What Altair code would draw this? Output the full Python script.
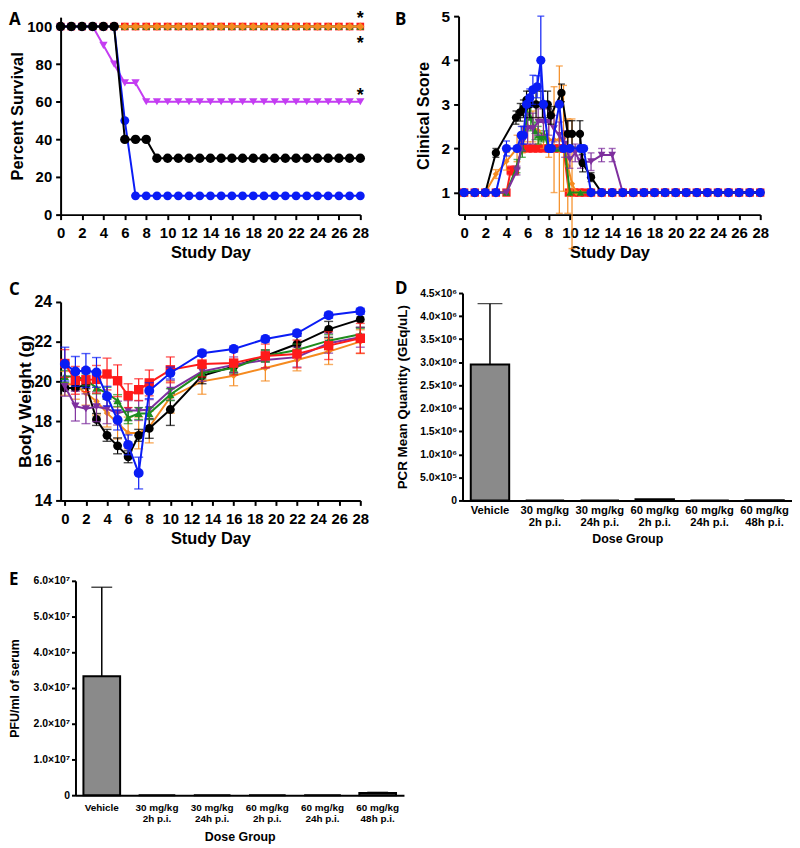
import altair as alt
import pandas as pd

FONT = "Liberation Sans"

# ---------------- colours ----------------
C_BLACK = "#000000"
C_BLUE = "#0a1cf5"
C_MAGENTA = "#c43df2"
C_PURPLE = "#7e2f9e"
C_ORANGE = "#f58a1f"
C_GREEN = "#1e8c1e"
C_RED = "#ff1a1a"

# ---------------- Panel A: percent survival ----------------
days_a = list(range(29))
surv_black = [100] * 6 + [40, 40, 40] + [30] * 20
surv_blue = [100] * 6 + [50] + [10] * 22
surv_magenta = [100] * 4 + [90, 80, 70, 70] + [60] * 21
surv_red = [100] * 29
surv_green = [100] * 29
surv_orange = [100] * 29
star_day = [28, 28, 28]
star_val = [105.5, 92.5, 64.5]

# ---------------- Panel B: clinical score ----------------
b_black_day = [0, 1, 2, 3, 4.9, 5.3, 5.6, 5.9, 6.2, 6.8, 7.4, 7.9, 8.2, 9.2, 9.8, 10.2, 10.95, 11.2, 12] + list(range(13, 29))
b_black_val = [1, 1, 1, 1.9, 2.7, 2.82, 2.9, 3.1, 3.0, 3.0, 3.0, 3.0, 2.75, 3.26, 2.33, 2.33, 2.33, 1.67, 1.35] + [1] * 16
b_black_err = [0, 0, 0, 0.1, 0.15, 0.2, 0.2, 0.2, 0.3, 0.3, 0.3, 0.3, 0.2, 0.2, 0.3, 0.3, 0.3, 0.2, 0.1] + [0] * 16

b_blue_day = [0, 1, 2, 3, 4, 5, 5.4, 5.6, 5.9, 6.2, 6.5, 6.9, 7.25, 7.5, 8, 8.25, 9, 9.4, 10, 11, 11.3, 12] + list(range(13, 29))
b_blue_val = [1, 1, 1, 1, 2, 2, 2.3, 2.3, 3, 3.15, 3.33, 3.4, 4, 3, 2, 2, 3, 2, 2, 2, 2, 1] + [1] * 16
b_blue_err = [0, 0, 0, 0, 0.17, 0, 0.2, 0.2, 0, 0.2, 0.33, 0.25, 1.0, 0, 0, 0, 0, 0, 0, 0, 0, 0] + [0] * 16

b_red_day = [0, 1, 2, 3, 4, 4.4, 4.8, 5.5, 6, 6.5, 7, 7.5, 8, 8.5, 9, 9.4, 9.9, 10.4, 10.9, 11.4] + list(range(12, 29))
b_red_val = [1, 1, 1, 1, 1, 1.5, 1.5, 2, 2, 2, 2, 2, 2, 2, 2, 2, 1, 1, 1, 1] + [1] * 17
b_red_err = [0, 0, 0, 0, 0, 0.1, 0.1] + [0] * 13 + [0] * 17

b_green_day = [0, 1, 2, 3, 4, 5, 5.5, 6, 6.3, 6.7, 7, 7.3, 7.6, 8, 8.5, 9, 9.5, 10] + list(range(11, 29))
b_green_val = [1, 1, 1, 1, 1, 1.6, 2.0, 2.8, 2.7, 2.4, 2.3, 2.25, 2.3, 2.0, 2.0, 2.0, 2.0, 1] + [1] * 18
b_green_err = [0, 0, 0, 0, 0, 0.15, 0.2, 0.3, 0.3, 0.2, 0.2, 0.1, 0.1, 0, 0, 0, 0, 0] + [0] * 18

b_orange_day = [0, 1, 2, 3, 4, 5, 5.5, 6, 6.5, 7, 7.5, 8, 8.5, 9, 9.4, 9.8, 10.2, 10.6] + list(range(11, 29))
b_orange_val = [1, 1, 1, 1.42, 1.71, 2.0, 2.2, 2.5, 2.5, 2.4, 2.3, 2.2, 2.2, 2.2, 2.23, 1.6, 1.2, 1] + [1] * 18
b_orange_err = [0, 0, 0, 0.1, 0.2, 0.3, 0.3, 0.35, 0.35, 0.3, 0.3, 0.4, 1.2, 1.67, 1.2, 1.07, 1.47, 0] + [0] * 18

b_purple_day = [0, 1, 2, 3, 4, 5, 5.5, 6, 6.5, 7, 7.5, 8, 8.5, 9, 9.5, 10, 10.5, 11, 12, 13, 14] + list(range(15, 29))
b_purple_val = [1, 1, 1, 1, 1, 1.5, 2.15, 2.45, 2.45, 2.6, 2.6, 2.6, 2.45, 2.3, 2.1, 1.75, 1.9, 1.7, 1.7, 1.85, 1.85] + [1] * 14
b_purple_err = [0, 0, 0, 0, 0, 0.1, 0.2, 0.35, 0.35, 0.3, 0.3, 0.3, 0.3, 0.3, 0.3, 0.2, 0.2, 0.15, 0.2, 0.15, 0.15] + [0] * 14

# ---------------- Panel C: body weight ----------------
days_c = [0, 1, 2, 3, 4, 5, 6, 7, 8, 10, 13, 16, 19, 22, 25, 28]
w_blue = [20.87, 20.5, 20.55, 20.45, 19.25, 18.05, 16.8, 15.38, 19.53, 20.42, 21.42, 21.63, 22.13, 22.42, 23.33, 23.53]
w_blue_err = [0.85, 0.75, 0.85, 0.75, 0.5, 0.5, 0.5, 0.8, 0.4, 0.3, 0.15, 0.15, 0.15, 0.15, 0.15, 0.15]
w_black = [19.67, 19.67, 19.83, 18.08, 17.28, 16.75, 16.2, 17.28, 17.63, 18.58, 20.28, 20.75, 21.28, 21.88, 22.62, 23.12]
w_black_err = [0.1, 0.1, 0.2, 0.3, 0.3, 0.4, 0.3, 0.3, 0.5, 0.8, 0.4, 0.3, 0.3, 0.4, 0.4, 0.4]
w_red = [20.9, 20.05, 20.08, 20.1, 20.37, 20.03, 19.28, 19.58, 19.92, 20.58, 20.87, 20.92, 21.28, 21.38, 21.8, 22.17]
w_red_err = [0.7, 0.7, 0.6, 0.7, 0.8, 0.8, 0.6, 0.55, 0.65, 0.65, 0.65, 0.6, 0.6, 0.7, 0.7, 0.75]
w_green = [20.25, 20.25, 20.08, 19.67, 19.4, 19.03, 18.17, 18.38, 18.38, 19.33, 20.42, 20.67, 21.28, 21.58, 22.05, 22.37]
w_green_err = [0.3] * 16
w_purple = [19.75, 18.75, 18.62, 18.72, 18.62, 18.4, 18.53, 18.53, 18.58, 19.55, 20.5, 20.83, 21.08, 21.22, 21.92, 22.22]
w_purple_err = [0.5, 0.75, 0.75, 0.75, 0.75, 0.6, 0.5, 0.5, 0.5, 0.5, 0.5, 0.4, 0.4, 0.5, 0.5, 0.5]
w_orange = [19.9, 19.8, 19.4, 19.0, 18.4, 17.9, 17.4, 17.4, 17.7, 19.2, 20.0, 20.28, 20.67, 21.08, 21.5, 22.0]
w_orange_err = [0.6, 0.7, 0.6, 0.7, 0.7, 0.8, 0.8, 0.8, 0.8, 0.8, 0.65, 0.5, 0.65, 0.55, 0.65, 0.6]

# ---------------- Panels D and E: bars ----------------
dose_groups = ["Vehicle", "30 mg/kg|2h p.i.", "30 mg/kg|24h p.i.",
               "60 mg/kg|2h p.i.", "60 mg/kg|24h p.i.", "60 mg/kg|48h p.i."]
pcr_mean = [2.95e6, 0, 0, 2.5e4, 0, 4e3]
pcr_err = [1.32e6, 0, 0, 0, 0, 0]
pfu_mean = [3.33e7, 0, 0, 0, 0, 6e5]
pfu_err = [2.49e7, 0, 0, 0, 0, 2e5]
pcr_ticks = [0, 5e5, 1e6, 1.5e6, 2e6, 2.5e6, 3e6, 3.5e6, 4e6, 4.5e6]
pfu_ticks = [0, 1e7, 2e7, 3e7, 4e7, 5e7, 6e7]

day_ticks = list(range(0, 29, 2))


# ---------------- helpers ----------------
def make_df(d, v, e=None):
    if e is None:
        e = [0] * len(d)
    df = pd.DataFrame({"d": d, "v": v, "err": e})
    df["lo"] = df["v"] - df["err"]
    df["hi"] = df["v"] + df["err"]
    return df


def series(df, xs, ys, ax, ay, color, shape, size, sw=2.0, cap=7):
    X = alt.X("d:Q", scale=xs, axis=ax)
    layers = []
    e = df[df["err"] > 0]
    if len(e):
        eb = alt.Chart(e)
        layers.append(eb.mark_rule(color=color, strokeWidth=1.2).encode(
            x=X, y=alt.Y("lo:Q", scale=ys, axis=ay), y2="hi:Q"))
        layers.append(eb.mark_tick(color=color, orient="horizontal", size=cap, thickness=1.4).encode(
            x=X, y=alt.Y("hi:Q", scale=ys, axis=ay)))
        layers.append(eb.mark_tick(color=color, orient="horizontal", size=cap, thickness=1.4).encode(
            x=X, y=alt.Y("lo:Q", scale=ys, axis=ay)))
    base = alt.Chart(df)
    layers.append(base.mark_line(color=color, strokeWidth=sw).encode(
        x=X, y=alt.Y("v:Q", scale=ys, axis=ay)))
    layers.append(base.mark_point(shape=shape, filled=True, color=color, size=size, opacity=1).encode(
        x=X, y=alt.Y("v:Q", scale=ys, axis=ay)))
    return layers


def letter(t, x, y):
    return alt.Chart(pd.DataFrame({"t": [t]})).mark_text(
        align="left", baseline="top", font="Open Sans", fontWeight="bold", fontSize=17, color="black"
    ).encode(x=alt.value(x), y=alt.value(y), text="t:N")


def x_day_axis(pad_title=4):
    return alt.Axis(title="Study Day", values=day_ticks, labelFontSize=15, titleFontSize=16.5,
                    tickSize=5, labelPadding=6, titlePadding=pad_title)


# ---------------- Panel A ----------------
xsA = alt.Scale(domain=[0, 28], nice=False, zero=False)
ysA = alt.Scale(domain=[0, 105], nice=False, range=[200, 1])
axA = x_day_axis()
ayA = alt.Axis(title="Percent Survival", values=[0, 20, 40, 60, 80, 100], labelFontSize=15,
               titleFontSize=16.5, tickSize=5, labelPadding=4, titlePadding=1)
layersA = []
layersA += series(make_df(days_a, surv_red), xsA, ysA, axA, ayA, C_RED, "square", 60)
layersA += series(make_df(days_a, surv_green), xsA, ysA, axA, ayA, C_GREEN, "triangle-up", 60)
layersA += series(make_df(days_a, surv_orange), xsA, ysA, axA, ayA, C_ORANGE, "diamond", 70)
layersA += series(make_df(days_a, surv_magenta), xsA, ysA, axA, ayA, C_MAGENTA, "triangle-down", 70)
layersA += series(make_df(days_a, surv_blue), xsA, ysA, axA, ayA, C_BLUE, "circle", 80)
layersA += series(make_df(days_a, surv_black), xsA, ysA, axA, ayA, C_BLACK, "circle", 90)
stars = alt.Chart(pd.DataFrame({"d": star_day, "v": star_val, "t": ["*"] * 3})).mark_text(
    font=FONT, fontSize=18, fontWeight="bold", baseline="middle", dy=3, color="black"
).encode(x=alt.X("d:Q", scale=xsA, axis=axA), y=alt.Y("v:Q", scale=ysA, axis=ayA), text="t:N")
panelA = alt.layer(*layersA, stars, letter("A", -52, -4)).properties(width=302, height=200)

# ---------------- Panel B ----------------
xsB = alt.Scale(domain=[-0.53, 28], nice=False, zero=False)
ysB = alt.Scale(domain=[0.5, 5], nice=False, zero=False)
axB = x_day_axis()
ayB = alt.Axis(title="Clinical Score", values=[1, 2, 3, 4, 5], labelFontSize=15.5,
               titleFontSize=16.5, tickSize=5, labelPadding=4, titlePadding=10)
layersB = []
layersB += series(make_df(b_red_day, b_red_val, b_red_err), xsB, ysB, axB, ayB, C_RED, "square", 70)
layersB += series(make_df(b_orange_day, b_orange_val, b_orange_err), xsB, ysB, axB, ayB, C_ORANGE, "diamond", 40)
layersB += series(make_df(b_green_day, b_green_val, b_green_err), xsB, ysB, axB, ayB, C_GREEN, "triangle-up", 55)
layersB += series(make_df(b_purple_day, b_purple_val, b_purple_err), xsB, ysB, axB, ayB, C_PURPLE, "triangle-down", 60)
layersB += series(make_df(b_black_day, b_black_val, b_black_err), xsB, ysB, axB, ayB, C_BLACK, "circle", 70)
layersB += series(make_df(b_blue_day, b_blue_val, b_blue_err), xsB, ysB, axB, ayB, C_BLUE, "circle", 85)
panelB = alt.layer(*layersB, letter("B", -64, -4)).properties(width=304, height=200)

# ---------------- Panel C ----------------
xsC = alt.Scale(domain=[-0.4, 28], nice=False, zero=False)
ysC = alt.Scale(domain=[14, 24], nice=False, zero=False, range=[209, 9])
axC = x_day_axis()
ayC = alt.Axis(title="Body Weight (g)", values=[14, 16, 18, 20, 22, 24], labelFontSize=16,
               titleFontSize=17.5, tickSize=5, labelPadding=4, titlePadding=0)
layersC = []
layersC += series(make_df(days_c, w_orange, w_orange_err), xsC, ysC, axC, ayC, C_ORANGE, "diamond", 45, cap=9)
layersC += series(make_df(days_c, w_black, w_black_err), xsC, ysC, axC, ayC, C_BLACK, "circle", 80, cap=9)
layersC += series(make_df(days_c, w_purple, w_purple_err), xsC, ysC, axC, ayC, C_PURPLE, "triangle-down", 70, cap=9)
layersC += series(make_df(days_c, w_green, w_green_err), xsC, ysC, axC, ayC, C_GREEN, "triangle-up", 70, cap=9)
layersC += series(make_df(days_c, w_red, w_red_err), xsC, ysC, axC, ayC, C_RED, "square", 90, cap=9)
layersC += series(make_df(days_c, w_blue, w_blue_err), xsC, ysC, axC, ayC, C_BLUE, "circle", 100, cap=9)
panelC = alt.layer(*layersC, letter("C", -52, -11)).properties(width=302, height=209)


# ---------------- Panels D / E ----------------
def bar_panel(means, errs, ticks, top, label_expr, ytitle, width, height, xrange, yrange, yoff,
              lab_size, lab_lh, lab_pad, x_title_pad, ytitle_size, ypad_title, p_inner, p_outer, cap,
              let, lx, ly):
    df = pd.DataFrame({"g": dose_groups, "m": means, "e": errs})
    df["hi"] = df["m"] + df["e"]
    X = alt.X("g:N", sort=dose_groups,
              scale=alt.Scale(paddingInner=p_inner, paddingOuter=p_outer, range=xrange),
              axis=alt.Axis(title="Dose Group", labelExpr="split(datum.label, '|')", labelAngle=0,
                            ticks=False, labelFontSize=lab_size, labelLineHeight=lab_lh,
                            labelPadding=lab_pad, titleFontSize=12.5, titlePadding=x_title_pad))
    ys = alt.Scale(domain=[0, top], nice=False, range=yrange)
    ay = alt.Axis(title=ytitle, values=ticks, labelExpr=label_expr, labelFontSize=10.5, tickSize=4,
                  labelPadding=2, titleFontSize=ytitle_size, titlePadding=ypad_title, offset=yoff)
    bars = alt.Chart(df).mark_bar(color="#8a8a8a", stroke="black", strokeWidth=2).encode(
        x=X, y=alt.Y("m:Q", scale=ys, axis=ay))
    e = df[df["e"] > 0]
    rule = alt.Chart(e).mark_rule(color="black", strokeWidth=1.5).encode(
        x=X, y=alt.Y("m:Q", scale=ys, axis=ay), y2="hi:Q")
    capm = alt.Chart(e).mark_tick(color="black", orient="horizontal", size=cap, thickness=1.5).encode(
        x=X, y=alt.Y("hi:Q", scale=ys, axis=ay))
    return alt.layer(bars, rule, capm, letter(let, lx, ly)).properties(width=width, height=height)


pcr_expr = ("datum.value == 0 ? '0' : (datum.value < 1000000 ? format(datum.value / 100000, '.1f') + '×10⁵' "
            ": format(datum.value / 1000000, '.1f') + '×10⁶')")
pfu_expr = "datum.value == 0 ? '0' : format(datum.value / 10000000, '.1f') + '×10⁷'"

panelD = bar_panel(pcr_mean, pcr_err, pcr_ticks, 4.5e6, pcr_expr, "PCR Mean Quantity (GEq/uL)",
                   336, 209, [4, 336], [209, 0], -4, 11.3, 12, 4, 5, 13.5, 10, 0.3, 0.15, 25, "D", -64, -12)
panelE = bar_panel(pfu_mean, pfu_err, pfu_ticks, 6e7, pfu_expr, "PFU/ml of serum",
                   346, 218, [15, 346], [218, 2], -15, 10, 12, 7, 7, 12.5, 12, 0.335, 0.144, 21, "E", -52, -7)

# ---------------- layout ----------------
chart = alt.concat(panelA, panelB, panelC, panelD, panelE, columns=2, bounds="flush", align="each",
                   spacing={"row": 79, "column": 55}).properties(
    padding={"left": 0, "top": -2, "right": 0, "bottom": 0}
).configure_view(stroke=None).configure_axis(
    domainColor="black", tickColor="black", labelColor="black", titleColor="black",
    labelFont=FONT, titleFont=FONT, labelFontWeight="bold", titleFontWeight="bold",
    grid=False, domainWidth=2, tickWidth=2, labelFlush=False, labelOverlap=False
)

chart.save("out.html", embed_options={"renderer": "svg", "actions": False})
